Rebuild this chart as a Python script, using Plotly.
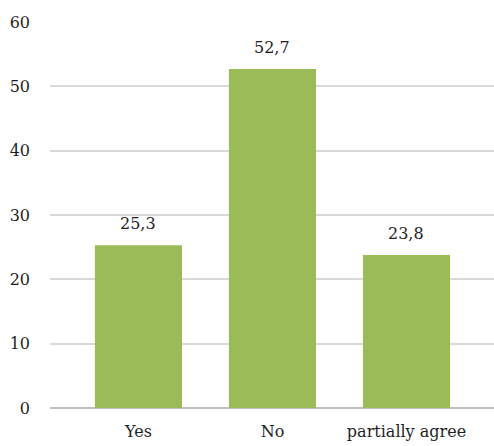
import plotly.graph_objects as go

categories = ["Yes", "No", "partially agree"]
values = [25.3, 52.7, 23.8]
value_labels = ["25,3", "52,7", "23,8"]
y_ticks = [0, 10, 20, 30, 40, 50, 60]

FONT = "DejaVu Serif"
GREEN = "#9BBB59"
TEXT = "#1F1F1F"

fig = go.Figure()
fig.add_trace(go.Bar(
    x=categories,
    y=values,
    marker=dict(color=GREEN, line=dict(width=0)),
    width=0.65,
    hoverinfo="skip",
))

for cat, val, lab in zip(categories, values, value_labels):
    fig.add_annotation(
        x=cat, y=val, text=lab, showarrow=False,
        xanchor="center", yanchor="bottom", yshift=10,
        font=dict(family=FONT, size=16, color=TEXT),
    )

fig.update_layout(
    width=494, height=446,
    margin=dict(l=50, r=0, t=22, b=38),
    paper_bgcolor="white",
    plot_bgcolor="white",
    showlegend=False,
    font=dict(family=FONT, size=16, color=TEXT),
)
fig.update_xaxes(
    type="category",
    range=[-0.66, 2.653],
    showgrid=False,
    showline=False,
    ticks="",
    ticklabelstandoff=12,
    tickfont=dict(family=FONT, size=16, color=TEXT),
)
fig.update_yaxes(
    range=[0, 60],
    tickvals=y_ticks,
    showgrid=True,
    gridcolor="#D9D9D9",
    gridwidth=1.5,
    zeroline=True,
    zerolinecolor="#BFBFBF",
    zerolinewidth=1.5,
    showline=False,
    ticks="",
    ticklabelstandoff=19,
    tickfont=dict(family=FONT, size=16, color=TEXT),
)

fig.write_html("out.html")
